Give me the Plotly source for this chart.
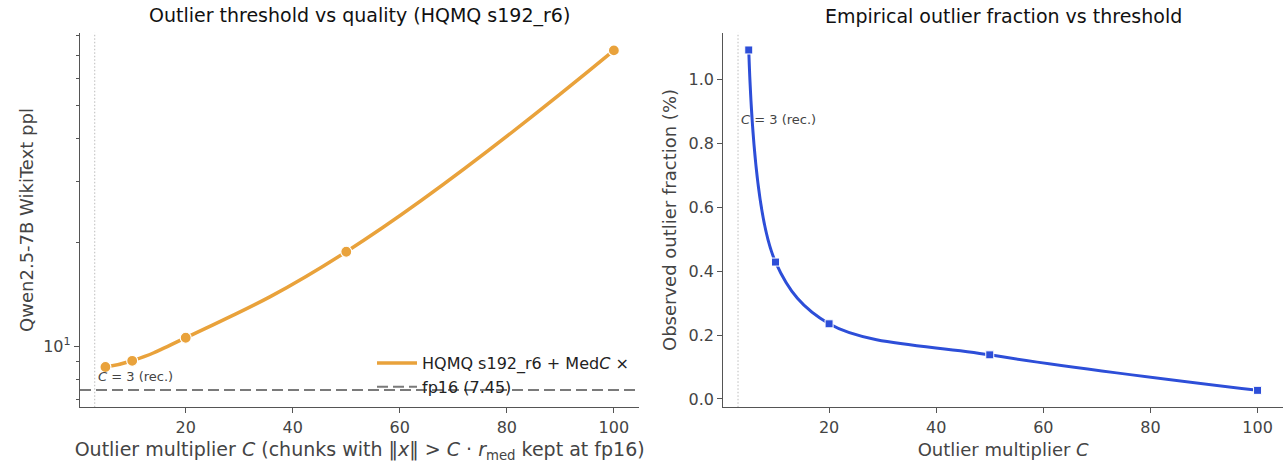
import plotly.graph_objects as go
import math

# ---- data ----
C_values = [5, 10, 20, 50, 100]
ppl_values = [8.69, 9.06, 10.57, 18.8, 72.4]
fp16_ppl = 7.45
outlier_frac = [1.091, 0.428, 0.235, 0.138, 0.027]
C_rec = 3
x_ticks = [20, 40, 60, 80, 100]
y2_ticks = [0.0, 0.2, 0.4, 0.6, 0.8, 1.0]
y2_ticklabels = ["0.0", "0.2", "0.4", "0.6", "0.8", "1.0"]
y_minor = [7, 8, 9, 20, 30, 40, 50, 60, 70, 80]

W, H = 1284, 463
ORANGE = "#E9A23B"
BLUE = "#2D4ED8"
AX = "#555555"
TXT = "#444444"
FONT = "DejaVu Sans"

def px(x):
    return x / W

def py(y):
    return 1 - y / H

fig = go.Figure()

# left panel
fig.add_trace(go.Scatter(
    x=C_values, y=ppl_values, mode="lines",
    line=dict(color=ORANGE, width=3.5, shape="spline", smoothing=1.3),
    name="HQMQ s192_r6 + Med<i>C</i> ×", xaxis="x", yaxis="y", showlegend=True))
fig.add_trace(go.Scatter(
    x=C_values, y=ppl_values, mode="markers",
    marker=dict(color=ORANGE, size=11, line=dict(color="white", width=1.2)),
    xaxis="x", yaxis="y", showlegend=False, hoverinfo="skip"))

# right panel
fig.add_trace(go.Scatter(
    x=C_values, y=outlier_frac, mode="lines", line=dict(color=BLUE, width=3, shape="spline"),
    xaxis="x2", yaxis="y2", showlegend=False))
fig.add_trace(go.Scatter(
    x=C_values, y=outlier_frac, mode="markers",
    marker=dict(color=BLUE, size=8, symbol="square", line=dict(color="white", width=1)),
    xaxis="x2", yaxis="y2", showlegend=False, hoverinfo="skip"))

shapes = [
    dict(type="line", xref="x domain", yref="y", x0=0, x1=1, y0=fp16_ppl, y1=fp16_ppl,
         line=dict(color="#7A7A7A", width=2, dash="11px,5px"),
         showlegend=True, name="fp16 (7.45)", layer="below"),
    dict(type="line", xref="x", yref="y domain", x0=C_rec, x1=C_rec, y0=0, y1=1,
         line=dict(color="#BBBBBB", width=1, dash="1.5px,2px"), layer="below"),
    dict(type="line", xref="x2", yref="y2 domain", x0=C_rec, x1=C_rec, y0=0, y1=1,
         line=dict(color="#BBBBBB", width=1, dash="1.5px,2px"), layer="below"),
]

yd = [py(407.3), py(32.7)]
axis_common = dict(showgrid=False, zeroline=False, showline=True, linecolor=AX, linewidth=1.3,
                   ticks="outside", ticklen=5, tickwidth=1.3, tickcolor=AX,
                   tickfont=dict(family=FONT, size=16, color=TXT), mirror=False)

fig.update_layout(
    width=W, height=H,
    margin=dict(l=0, r=0, t=0, b=0),
    paper_bgcolor="white", plot_bgcolor="white",
    font=dict(family=FONT, color=TXT),
    shapes=shapes,
    xaxis=dict(domain=[px(80), px(639.3)], range=[0.25, 104.75], tickvals=x_ticks, anchor="y",
               title=dict(text="Outlier multiplier <i>C</i> (chunks with ‖<i>x</i>‖ > <i>C</i> · <i>r</i><sub>med</sub> kept at fp16)",
                          font=dict(family=FONT, size=19, color=TXT), standoff=7),
               **axis_common),
    yaxis=dict(domain=yd, type="log", range=[math.log10(6.635), math.log10(81.5)], anchor="x",
               tickvals=[10], ticktext=["10<sup>1</sup>"],
               minor=dict(tickvals=y_minor, ticks="outside", ticklen=3, tickwidth=1, tickcolor=AX),
               title=dict(text="Qwen2.5-7B WikiText ppl", font=dict(family=FONT, size=18, color=TXT), standoff=4),
               **axis_common),
    xaxis2=dict(domain=[px(723.3), px(1283)], range=[0.25, 104.75], tickvals=x_ticks, anchor="y2",
                title=dict(text="Outlier multiplier <i>C</i>", font=dict(family=FONT, size=18, color=TXT), standoff=7),
                **axis_common),
    yaxis2=dict(domain=yd, range=[-0.026, 1.145], anchor="x2",
                tickvals=y2_ticks, ticktext=y2_ticklabels,
                title=dict(text="Observed outlier fraction (%)", font=dict(family=FONT, size=18, color=TXT), standoff=7),
                **axis_common),
    legend=dict(x=px(372), y=py(346), xanchor="left", yanchor="top", bgcolor="rgba(0,0,0,0)",
                borderwidth=0, font=dict(family=FONT, size=16, color="#222222"), itemwidth=40),
    annotations=[
        dict(text="Outlier threshold vs quality (HQMQ s192_r6)", xref="paper", yref="paper",
             x=px((80 + 639.3) / 2), y=py(16), xanchor="center", yanchor="middle", showarrow=False,
             font=dict(family=FONT, size=19, color="#111111")),
        dict(text="Empirical outlier fraction vs threshold", xref="paper", yref="paper",
             x=px((723.3 + 1283) / 2), y=py(16), xanchor="center", yanchor="middle", showarrow=False,
             font=dict(family=FONT, size=19, color="#111111")),
        dict(text="<i>C</i> = 3 (rec.)", xref="x", yref="y domain", x=C_rec, y=(407.3 - 377) / 374.6,
             xanchor="left", yanchor="middle", xshift=1, showarrow=False,
             font=dict(family=FONT, size=13, color=TXT)),
        dict(text="<i>C</i> = 3 (rec.)", xref="x2", yref="y2 domain", x=C_rec, y=(407.3 - 119) / 374.6,
             xanchor="left", yanchor="middle", xshift=1, showarrow=False,
             font=dict(family=FONT, size=13, color=TXT)),
    ],
)

fig.write_html("out.html")
